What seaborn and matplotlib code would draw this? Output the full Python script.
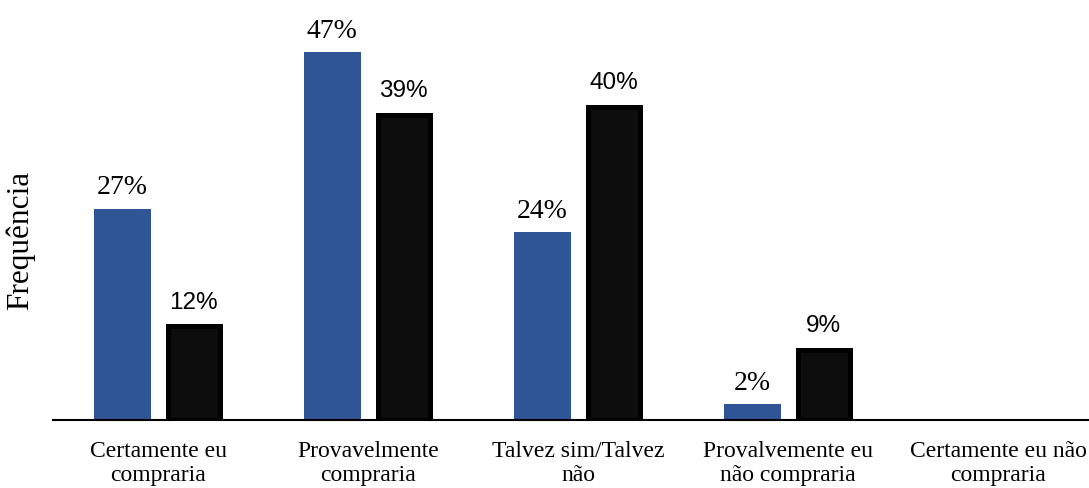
import numpy as np
import pandas as pd
import matplotlib
matplotlib.use("Agg")
import matplotlib.pyplot as plt
import seaborn as sns

# Purchase intention survey: share of answers per option, two groups
categories = [
    "Certamente eu\ncompraria",
    "Provavelmente\ncompraria",
    "Talvez sim/Talvez\nnão",
    "Provalvemente eu\nnão compraria",
    "Certamente eu não\ncompraria",
]
group_a = [27, 47, 24, 2, np.nan]
group_b = [12, 39, 40, 9, np.nan]
group_names = ["A", "B"]

df = pd.DataFrame({
    "categoria": categories * 2,
    "grupo": [group_names[0]] * len(categories) + [group_names[1]] * len(categories),
    "valor": group_a + group_b,
})

sns.set_theme(style="white")
plt.rcParams["font.family"] = ["Liberation Serif", "DejaVu Serif"]
plt.rcParams["text.color"] = "black"
plt.rcParams["axes.labelcolor"] = "black"
plt.rcParams["xtick.color"] = "black"
plt.rcParams["xtick.labelcolor"] = "black"

fig = plt.figure(figsize=(10.89, 4.88), dpi=100)
ax = fig.add_axes([53 / 1089, 68 / 488, 1050 / 1089, 420 / 488])

blue = "#2F5597"
dark = "#0D0D0D"
sns.barplot(
    data=df.dropna(), x="categoria", y="valor", hue="grupo",
    order=categories, hue_order=group_names,
    palette=[blue, dark], width=0.68, gap=0.2,
    legend=False, ax=ax, saturation=1,
)

# Blue bars plain; dark bars slightly narrower with a heavy black outline
shrink = 2.5 / 210
for patch in ax.containers[0]:
    patch.set_edgecolor("none")
for patch in ax.containers[1]:
    patch.set_x(patch.get_x() + shrink)
    patch.set_width(patch.get_width() - 2 * shrink)
    patch.set_edgecolor("black")
    patch.set_linewidth(3.6)

ax.bar_label(ax.containers[0], fmt="%.0f%%", padding=6,
             fontsize=20, family="Liberation Serif", color="black")
ax.bar_label(ax.containers[1], fmt="%.0f%%", padding=9,
             fontsize=17.5, family="Liberation Sans", color="black")

ax.set_xlim(-0.5, 4.5)
ax.set_ylim(0, 420 / 7.83)
ax.set_xlabel("")
ax.set_ylabel("Frequência", fontsize=22.5, color="black")
ax.yaxis.set_label_coords(-18 / 1050, 180 / 420)
ax.set_yticks([])
ax.tick_params(axis="x", length=0, pad=15, labelsize=17, labelcolor="black")
for lbl in ax.get_xticklabels():
    lbl.set_linespacing(1.2)

for side in ["left", "right", "top"]:
    ax.spines[side].set_visible(False)
ax.spines["bottom"].set_color("black")
ax.spines["bottom"].set_linewidth(1.5)
ax.set_facecolor("white")
fig.patch.set_facecolor("white")

fig.savefig("out.png", dpi=100, facecolor="white")
